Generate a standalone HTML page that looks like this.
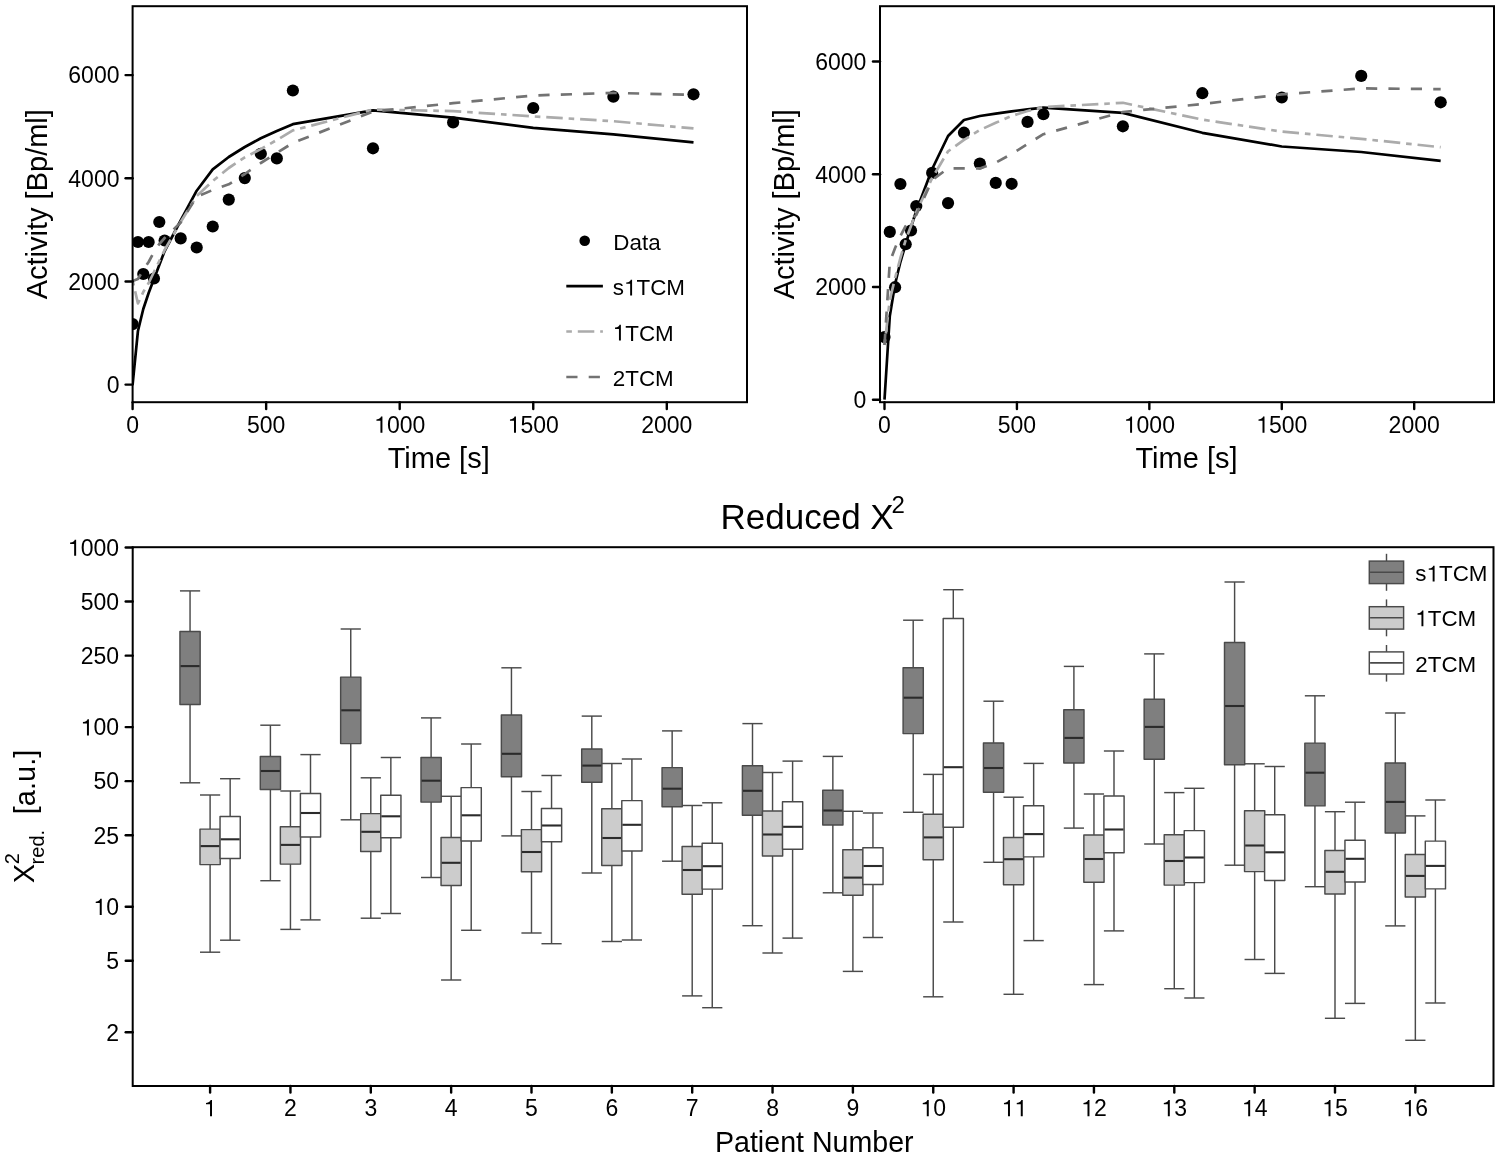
<!DOCTYPE html><html><head><meta charset="utf-8"><style>html,body{margin:0;padding:0;background:#fff;overflow:hidden}svg{display:block;will-change:transform}text{font-family:"Liberation Sans",sans-serif}</style></head><body><svg width="1500" height="1158" viewBox="0 0 1500 1158" font-family="Liberation Sans, sans-serif" fill="#000">
<rect x="0" y="0" width="1500" height="1158" fill="#fff"/>
<clipPath id="ctl"><rect x="132.6" y="6.2" width="614.4" height="396.0"/></clipPath>
<g clip-path="url(#ctl)">
<circle cx="132.60" cy="324.10" r="6.1" fill="#000"/>
<circle cx="137.94" cy="242.00" r="6.1" fill="#000"/>
<circle cx="143.28" cy="274.00" r="6.1" fill="#000"/>
<circle cx="148.63" cy="242.00" r="6.1" fill="#000"/>
<circle cx="153.97" cy="278.50" r="6.1" fill="#000"/>
<circle cx="159.31" cy="222.00" r="6.1" fill="#000"/>
<circle cx="164.65" cy="240.50" r="6.1" fill="#000"/>
<circle cx="180.68" cy="238.40" r="6.1" fill="#000"/>
<circle cx="196.70" cy="247.50" r="6.1" fill="#000"/>
<circle cx="212.73" cy="226.50" r="6.1" fill="#000"/>
<circle cx="228.76" cy="199.60" r="6.1" fill="#000"/>
<circle cx="244.78" cy="178.10" r="6.1" fill="#000"/>
<circle cx="260.81" cy="153.80" r="6.1" fill="#000"/>
<circle cx="276.83" cy="158.40" r="6.1" fill="#000"/>
<circle cx="292.86" cy="90.50" r="6.1" fill="#000"/>
<circle cx="372.99" cy="148.30" r="6.1" fill="#000"/>
<circle cx="453.12" cy="122.40" r="6.1" fill="#000"/>
<circle cx="533.25" cy="108.00" r="6.1" fill="#000"/>
<circle cx="613.38" cy="96.70" r="6.1" fill="#000"/>
<circle cx="693.51" cy="94.30" r="6.1" fill="#000"/>
<polyline points="132.60,384.60 137.94,331.00 143.28,309.00 148.63,293.00 153.97,279.00 159.31,265.00 164.65,251.00 180.68,220.50 196.70,190.70 212.73,169.40 228.76,157.00 244.78,147.00 260.81,138.30 276.83,131.00 292.86,124.20 372.99,110.30 453.12,117.60 533.25,127.90 613.38,134.40 693.51,142.30" fill="none" stroke="#000" stroke-width="2.7" stroke-linejoin="round" />
<polyline points="132.60,280.00 137.94,303.50 143.28,292.00 148.63,283.00 153.97,272.00 159.31,261.00 164.65,250.00 180.68,222.00 196.70,196.00 212.73,181.00 228.76,168.00 244.78,157.40 260.81,149.10 276.83,140.00 292.86,130.40 372.99,109.50 453.12,111.10 533.25,116.40 613.38,121.20 693.51,128.40" fill="none" stroke="#ABABAB" stroke-width="2.7" stroke-dasharray="5.6 5.9 16.5 5.9" stroke-linejoin="round" />
<polyline points="132.60,281.00 137.94,279.00 143.28,270.00 148.63,262.00 153.97,252.00 159.31,244.00 164.65,238.00 180.68,222.50 196.70,196.70 212.73,190.00 228.76,184.30 244.78,174.00 260.81,163.00 276.83,153.00 292.86,142.90 372.99,111.60 453.12,103.20 533.25,95.50 613.38,92.90 693.51,94.80" fill="none" stroke="#737373" stroke-width="2.7" stroke-dasharray="11.2 11.2" stroke-linejoin="round" />
</g>
<rect x="132.6" y="6.2" width="614.4" height="396.0" fill="none" stroke="#000" stroke-width="2"/>
<line x1="125.60" y1="384.60" x2="132.60" y2="384.60" stroke="#000" stroke-width="2.4" stroke-linecap="round"/>
<text x="119.50" y="392.90" font-size="23" text-anchor="end" >0</text>
<line x1="125.60" y1="281.43" x2="132.60" y2="281.43" stroke="#000" stroke-width="2.4" stroke-linecap="round"/>
<text x="119.50" y="289.73" font-size="23" text-anchor="end" >2000</text>
<line x1="125.60" y1="178.27" x2="132.60" y2="178.27" stroke="#000" stroke-width="2.4" stroke-linecap="round"/>
<text x="119.50" y="186.57" font-size="23" text-anchor="end" >4000</text>
<line x1="125.60" y1="75.10" x2="132.60" y2="75.10" stroke="#000" stroke-width="2.4" stroke-linecap="round"/>
<text x="119.50" y="83.40" font-size="23" text-anchor="end" >6000</text>
<line x1="132.60" y1="402.20" x2="132.60" y2="409.00" stroke="#000" stroke-width="2.4" stroke-linecap="round"/>
<text x="132.60" y="432.70" font-size="23" text-anchor="middle" >0</text>
<line x1="266.15" y1="402.20" x2="266.15" y2="409.00" stroke="#000" stroke-width="2.4" stroke-linecap="round"/>
<text x="266.15" y="432.70" font-size="23" text-anchor="middle" >500</text>
<line x1="399.70" y1="402.20" x2="399.70" y2="409.00" stroke="#000" stroke-width="2.4" stroke-linecap="round"/>
<path d="M275 0L361 0L361 703L300 703C285 650 240 585 100 578L100 517L275 517Z" transform="translate(374.12,432.70) scale(0.0230,-0.0230)"/>
<text x="386.91" y="432.70" font-size="23" >000</text>
<line x1="533.25" y1="402.20" x2="533.25" y2="409.00" stroke="#000" stroke-width="2.4" stroke-linecap="round"/>
<path d="M275 0L361 0L361 703L300 703C285 650 240 585 100 578L100 517L275 517Z" transform="translate(507.67,432.70) scale(0.0230,-0.0230)"/>
<text x="520.46" y="432.70" font-size="23" >500</text>
<line x1="666.80" y1="402.20" x2="666.80" y2="409.00" stroke="#000" stroke-width="2.4" stroke-linecap="round"/>
<text x="666.80" y="432.70" font-size="23" text-anchor="middle" >2000</text>
<text x="438.70" y="468.10" font-size="29" text-anchor="middle" >Time [s]</text>
<text transform="translate(47.1,204.2) rotate(-90)" font-size="29" text-anchor="middle">Activity [Bp/ml]</text>
<clipPath id="ctr"><rect x="880.0" y="6.2" width="614.0" height="396.0"/></clipPath>
<g clip-path="url(#ctr)">
<circle cx="884.50" cy="337.10" r="6.1" fill="#000"/>
<circle cx="889.80" cy="231.90" r="6.1" fill="#000"/>
<circle cx="895.09" cy="287.20" r="6.1" fill="#000"/>
<circle cx="900.39" cy="184.00" r="6.1" fill="#000"/>
<circle cx="905.69" cy="244.20" r="6.1" fill="#000"/>
<circle cx="910.99" cy="230.50" r="6.1" fill="#000"/>
<circle cx="916.28" cy="206.00" r="6.1" fill="#000"/>
<circle cx="932.17" cy="172.90" r="6.1" fill="#000"/>
<circle cx="948.06" cy="203.10" r="6.1" fill="#000"/>
<circle cx="963.96" cy="132.70" r="6.1" fill="#000"/>
<circle cx="979.85" cy="163.50" r="6.1" fill="#000"/>
<circle cx="995.74" cy="182.90" r="6.1" fill="#000"/>
<circle cx="1011.63" cy="183.80" r="6.1" fill="#000"/>
<circle cx="1027.52" cy="121.90" r="6.1" fill="#000"/>
<circle cx="1043.41" cy="114.20" r="6.1" fill="#000"/>
<circle cx="1122.87" cy="126.30" r="6.1" fill="#000"/>
<circle cx="1202.32" cy="93.20" r="6.1" fill="#000"/>
<circle cx="1281.78" cy="97.50" r="6.1" fill="#000"/>
<circle cx="1361.23" cy="75.90" r="6.1" fill="#000"/>
<circle cx="1440.68" cy="102.30" r="6.1" fill="#000"/>
<polyline points="884.50,399.70 889.80,316.00 895.09,284.00 900.39,262.00 905.69,244.00 910.99,227.00 916.28,211.00 932.17,169.00 948.06,136.00 963.96,120.00 979.85,116.00 995.74,113.60 1011.63,111.30 1027.52,109.30 1043.41,107.70 1122.87,112.90 1202.32,132.80 1281.78,146.50 1361.23,152.00 1440.68,160.90" fill="none" stroke="#000" stroke-width="2.7" stroke-linejoin="round" />
<polyline points="884.50,345.00 889.80,300.00 895.09,278.00 900.39,258.00 905.69,240.00 910.99,226.00 916.28,212.00 932.17,178.00 948.06,151.30 963.96,139.90 979.85,130.00 995.74,122.80 1011.63,116.00 1027.52,111.00 1043.41,107.10 1122.87,102.80 1202.32,119.60 1281.78,131.60 1361.23,138.80 1440.68,147.20" fill="none" stroke="#ABABAB" stroke-width="2.7" stroke-dasharray="5.6 5.9 16.5 5.9" stroke-linejoin="round" />
<polyline points="884.50,345.00 889.80,262.00 895.09,248.00 900.39,236.00 905.69,226.00 910.99,219.00 916.28,215.00 932.17,180.00 948.06,168.40 963.96,168.40 979.85,168.40 995.74,162.70 1011.63,154.00 1027.52,144.00 1043.41,134.20 1122.87,112.00 1202.32,104.00 1281.78,94.40 1361.23,88.40 1440.68,89.10" fill="none" stroke="#737373" stroke-width="2.7" stroke-dasharray="11.2 11.2" stroke-linejoin="round" />
</g>
<rect x="880.0" y="6.2" width="614.0" height="396.0" fill="none" stroke="#000" stroke-width="2"/>
<line x1="873.00" y1="399.70" x2="880.00" y2="399.70" stroke="#000" stroke-width="2.4" stroke-linecap="round"/>
<text x="866.40" y="408.00" font-size="23" text-anchor="end" >0</text>
<line x1="873.00" y1="286.97" x2="880.00" y2="286.97" stroke="#000" stroke-width="2.4" stroke-linecap="round"/>
<text x="866.40" y="295.27" font-size="23" text-anchor="end" >2000</text>
<line x1="873.00" y1="174.23" x2="880.00" y2="174.23" stroke="#000" stroke-width="2.4" stroke-linecap="round"/>
<text x="866.40" y="182.53" font-size="23" text-anchor="end" >4000</text>
<line x1="873.00" y1="61.50" x2="880.00" y2="61.50" stroke="#000" stroke-width="2.4" stroke-linecap="round"/>
<text x="866.40" y="69.80" font-size="23" text-anchor="end" >6000</text>
<line x1="884.50" y1="402.20" x2="884.50" y2="409.00" stroke="#000" stroke-width="2.4" stroke-linecap="round"/>
<text x="884.50" y="432.70" font-size="23" text-anchor="middle" >0</text>
<line x1="1016.92" y1="402.20" x2="1016.92" y2="409.00" stroke="#000" stroke-width="2.4" stroke-linecap="round"/>
<text x="1016.92" y="432.70" font-size="23" text-anchor="middle" >500</text>
<line x1="1149.35" y1="402.20" x2="1149.35" y2="409.00" stroke="#000" stroke-width="2.4" stroke-linecap="round"/>
<path d="M275 0L361 0L361 703L300 703C285 650 240 585 100 578L100 517L275 517Z" transform="translate(1123.77,432.70) scale(0.0230,-0.0230)"/>
<text x="1136.56" y="432.70" font-size="23" >000</text>
<line x1="1281.78" y1="402.20" x2="1281.78" y2="409.00" stroke="#000" stroke-width="2.4" stroke-linecap="round"/>
<path d="M275 0L361 0L361 703L300 703C285 650 240 585 100 578L100 517L275 517Z" transform="translate(1256.19,432.70) scale(0.0230,-0.0230)"/>
<text x="1268.98" y="432.70" font-size="23" >500</text>
<line x1="1414.20" y1="402.20" x2="1414.20" y2="409.00" stroke="#000" stroke-width="2.4" stroke-linecap="round"/>
<text x="1414.20" y="432.70" font-size="23" text-anchor="middle" >2000</text>
<text x="1186.50" y="468.10" font-size="29" text-anchor="middle" >Time [s]</text>
<text transform="translate(794.3,204.2) rotate(-90)" font-size="29" text-anchor="middle">Activity [Bp/ml]</text>
<circle cx="584.7" cy="240.8" r="5.3" fill="#000"/>
<text x="613.30" y="249.50" font-size="22.4" text-anchor="start" >Data</text>
<line x1="566.30" y1="286.10" x2="602.90" y2="286.10" stroke="#000" stroke-width="2.7" />
<text x="612.80" y="295.40" font-size="22.4" >s</text>
<path d="M275 0L361 0L361 703L300 703C285 650 240 585 100 578L100 517L275 517Z" transform="translate(624.00,295.40) scale(0.0224,-0.0224)"/>
<text x="636.46" y="295.40" font-size="22.4" >TCM</text>
<line x1="566.30" y1="331.50" x2="602.90" y2="331.50" stroke="#ABABAB" stroke-width="2.7" stroke-dasharray="5.6 5.9 16.5 5.9"/>
<path d="M275 0L361 0L361 703L300 703C285 650 240 585 100 578L100 517L275 517Z" transform="translate(612.80,340.50) scale(0.0224,-0.0224)"/>
<text x="625.26" y="340.50" font-size="22.4" >TCM</text>
<line x1="566.30" y1="377.00" x2="602.90" y2="377.00" stroke="#737373" stroke-width="2.7" stroke-dasharray="11.2 11.2"/>
<text x="612.80" y="385.60" font-size="22.4" text-anchor="start" >2TCM</text>
<line x1="190.05" y1="590.90" x2="190.05" y2="631.50" stroke="#4a4a4a" stroke-width="1.45" />
<line x1="190.05" y1="704.50" x2="190.05" y2="782.80" stroke="#4a4a4a" stroke-width="1.45" />
<line x1="179.95" y1="590.90" x2="200.15" y2="590.90" stroke="#4a4a4a" stroke-width="1.45" />
<line x1="179.95" y1="782.80" x2="200.15" y2="782.80" stroke="#4a4a4a" stroke-width="1.45" />
<rect x="179.95" y="631.50" width="20.20" height="73.00" fill="#7F7F7F" stroke="#4a4a4a" stroke-width="1.45" stroke-linejoin="round"/>
<line x1="180.55" y1="666.10" x2="199.55" y2="666.10" stroke="#2b2b2b" stroke-width="2.1" />
<line x1="210.10" y1="795.00" x2="210.10" y2="829.10" stroke="#4a4a4a" stroke-width="1.45" />
<line x1="210.10" y1="864.60" x2="210.10" y2="952.20" stroke="#4a4a4a" stroke-width="1.45" />
<line x1="200.00" y1="795.00" x2="220.20" y2="795.00" stroke="#4a4a4a" stroke-width="1.45" />
<line x1="200.00" y1="952.20" x2="220.20" y2="952.20" stroke="#4a4a4a" stroke-width="1.45" />
<rect x="200.00" y="829.10" width="20.20" height="35.50" fill="#CCCCCC" stroke="#4a4a4a" stroke-width="1.45" stroke-linejoin="round"/>
<line x1="200.60" y1="846.10" x2="219.60" y2="846.10" stroke="#2b2b2b" stroke-width="2.1" />
<line x1="230.15" y1="778.70" x2="230.15" y2="816.50" stroke="#4a4a4a" stroke-width="1.45" />
<line x1="230.15" y1="858.50" x2="230.15" y2="940.20" stroke="#4a4a4a" stroke-width="1.45" />
<line x1="220.05" y1="778.70" x2="240.25" y2="778.70" stroke="#4a4a4a" stroke-width="1.45" />
<line x1="220.05" y1="940.20" x2="240.25" y2="940.20" stroke="#4a4a4a" stroke-width="1.45" />
<rect x="220.05" y="816.50" width="20.20" height="42.00" fill="#FFFFFF" stroke="#4a4a4a" stroke-width="1.45" stroke-linejoin="round"/>
<line x1="220.65" y1="839.30" x2="239.65" y2="839.30" stroke="#2b2b2b" stroke-width="2.1" />
<line x1="270.40" y1="725.20" x2="270.40" y2="756.50" stroke="#4a4a4a" stroke-width="1.45" />
<line x1="270.40" y1="789.40" x2="270.40" y2="880.70" stroke="#4a4a4a" stroke-width="1.45" />
<line x1="260.30" y1="725.20" x2="280.50" y2="725.20" stroke="#4a4a4a" stroke-width="1.45" />
<line x1="260.30" y1="880.70" x2="280.50" y2="880.70" stroke="#4a4a4a" stroke-width="1.45" />
<rect x="260.30" y="756.50" width="20.20" height="32.90" fill="#7F7F7F" stroke="#4a4a4a" stroke-width="1.45" stroke-linejoin="round"/>
<line x1="260.90" y1="771.00" x2="279.90" y2="771.00" stroke="#2b2b2b" stroke-width="2.1" />
<line x1="290.45" y1="791.00" x2="290.45" y2="826.80" stroke="#4a4a4a" stroke-width="1.45" />
<line x1="290.45" y1="864.10" x2="290.45" y2="929.40" stroke="#4a4a4a" stroke-width="1.45" />
<line x1="280.35" y1="791.00" x2="300.55" y2="791.00" stroke="#4a4a4a" stroke-width="1.45" />
<line x1="280.35" y1="929.40" x2="300.55" y2="929.40" stroke="#4a4a4a" stroke-width="1.45" />
<rect x="280.35" y="826.80" width="20.20" height="37.30" fill="#CCCCCC" stroke="#4a4a4a" stroke-width="1.45" stroke-linejoin="round"/>
<line x1="280.95" y1="844.90" x2="299.95" y2="844.90" stroke="#2b2b2b" stroke-width="2.1" />
<line x1="310.50" y1="754.60" x2="310.50" y2="793.50" stroke="#4a4a4a" stroke-width="1.45" />
<line x1="310.50" y1="837.00" x2="310.50" y2="919.90" stroke="#4a4a4a" stroke-width="1.45" />
<line x1="300.40" y1="754.60" x2="320.60" y2="754.60" stroke="#4a4a4a" stroke-width="1.45" />
<line x1="300.40" y1="919.90" x2="320.60" y2="919.90" stroke="#4a4a4a" stroke-width="1.45" />
<rect x="300.40" y="793.50" width="20.20" height="43.50" fill="#FFFFFF" stroke="#4a4a4a" stroke-width="1.45" stroke-linejoin="round"/>
<line x1="301.00" y1="813.00" x2="320.00" y2="813.00" stroke="#2b2b2b" stroke-width="2.1" />
<line x1="350.75" y1="629.00" x2="350.75" y2="677.10" stroke="#4a4a4a" stroke-width="1.45" />
<line x1="350.75" y1="743.60" x2="350.75" y2="819.80" stroke="#4a4a4a" stroke-width="1.45" />
<line x1="340.65" y1="629.00" x2="360.85" y2="629.00" stroke="#4a4a4a" stroke-width="1.45" />
<line x1="340.65" y1="819.80" x2="360.85" y2="819.80" stroke="#4a4a4a" stroke-width="1.45" />
<rect x="340.65" y="677.10" width="20.20" height="66.50" fill="#7F7F7F" stroke="#4a4a4a" stroke-width="1.45" stroke-linejoin="round"/>
<line x1="341.25" y1="710.30" x2="360.25" y2="710.30" stroke="#2b2b2b" stroke-width="2.1" />
<line x1="370.80" y1="777.80" x2="370.80" y2="813.60" stroke="#4a4a4a" stroke-width="1.45" />
<line x1="370.80" y1="851.50" x2="370.80" y2="918.20" stroke="#4a4a4a" stroke-width="1.45" />
<line x1="360.70" y1="777.80" x2="380.90" y2="777.80" stroke="#4a4a4a" stroke-width="1.45" />
<line x1="360.70" y1="918.20" x2="380.90" y2="918.20" stroke="#4a4a4a" stroke-width="1.45" />
<rect x="360.70" y="813.60" width="20.20" height="37.90" fill="#CCCCCC" stroke="#4a4a4a" stroke-width="1.45" stroke-linejoin="round"/>
<line x1="361.30" y1="831.80" x2="380.30" y2="831.80" stroke="#2b2b2b" stroke-width="2.1" />
<line x1="390.85" y1="757.50" x2="390.85" y2="795.30" stroke="#4a4a4a" stroke-width="1.45" />
<line x1="390.85" y1="837.80" x2="390.85" y2="913.50" stroke="#4a4a4a" stroke-width="1.45" />
<line x1="380.75" y1="757.50" x2="400.95" y2="757.50" stroke="#4a4a4a" stroke-width="1.45" />
<line x1="380.75" y1="913.50" x2="400.95" y2="913.50" stroke="#4a4a4a" stroke-width="1.45" />
<rect x="380.75" y="795.30" width="20.20" height="42.50" fill="#FFFFFF" stroke="#4a4a4a" stroke-width="1.45" stroke-linejoin="round"/>
<line x1="381.35" y1="816.30" x2="400.35" y2="816.30" stroke="#2b2b2b" stroke-width="2.1" />
<line x1="431.10" y1="717.90" x2="431.10" y2="757.50" stroke="#4a4a4a" stroke-width="1.45" />
<line x1="431.10" y1="802.10" x2="431.10" y2="877.50" stroke="#4a4a4a" stroke-width="1.45" />
<line x1="421.00" y1="717.90" x2="441.20" y2="717.90" stroke="#4a4a4a" stroke-width="1.45" />
<line x1="421.00" y1="877.50" x2="441.20" y2="877.50" stroke="#4a4a4a" stroke-width="1.45" />
<rect x="421.00" y="757.50" width="20.20" height="44.60" fill="#7F7F7F" stroke="#4a4a4a" stroke-width="1.45" stroke-linejoin="round"/>
<line x1="421.60" y1="780.70" x2="440.60" y2="780.70" stroke="#2b2b2b" stroke-width="2.1" />
<line x1="451.15" y1="796.30" x2="451.15" y2="837.50" stroke="#4a4a4a" stroke-width="1.45" />
<line x1="451.15" y1="885.50" x2="451.15" y2="980.00" stroke="#4a4a4a" stroke-width="1.45" />
<line x1="441.05" y1="796.30" x2="461.25" y2="796.30" stroke="#4a4a4a" stroke-width="1.45" />
<line x1="441.05" y1="980.00" x2="461.25" y2="980.00" stroke="#4a4a4a" stroke-width="1.45" />
<rect x="441.05" y="837.50" width="20.20" height="48.00" fill="#CCCCCC" stroke="#4a4a4a" stroke-width="1.45" stroke-linejoin="round"/>
<line x1="441.65" y1="862.80" x2="460.65" y2="862.80" stroke="#2b2b2b" stroke-width="2.1" />
<line x1="471.20" y1="744.00" x2="471.20" y2="787.60" stroke="#4a4a4a" stroke-width="1.45" />
<line x1="471.20" y1="841.00" x2="471.20" y2="930.30" stroke="#4a4a4a" stroke-width="1.45" />
<line x1="461.10" y1="744.00" x2="481.30" y2="744.00" stroke="#4a4a4a" stroke-width="1.45" />
<line x1="461.10" y1="930.30" x2="481.30" y2="930.30" stroke="#4a4a4a" stroke-width="1.45" />
<rect x="461.10" y="787.60" width="20.20" height="53.40" fill="#FFFFFF" stroke="#4a4a4a" stroke-width="1.45" stroke-linejoin="round"/>
<line x1="461.70" y1="815.30" x2="480.70" y2="815.30" stroke="#2b2b2b" stroke-width="2.1" />
<line x1="511.45" y1="667.80" x2="511.45" y2="715.00" stroke="#4a4a4a" stroke-width="1.45" />
<line x1="511.45" y1="776.80" x2="511.45" y2="835.90" stroke="#4a4a4a" stroke-width="1.45" />
<line x1="501.35" y1="667.80" x2="521.55" y2="667.80" stroke="#4a4a4a" stroke-width="1.45" />
<line x1="501.35" y1="835.90" x2="521.55" y2="835.90" stroke="#4a4a4a" stroke-width="1.45" />
<rect x="501.35" y="715.00" width="20.20" height="61.80" fill="#7F7F7F" stroke="#4a4a4a" stroke-width="1.45" stroke-linejoin="round"/>
<line x1="501.95" y1="753.80" x2="520.95" y2="753.80" stroke="#2b2b2b" stroke-width="2.1" />
<line x1="531.50" y1="791.50" x2="531.50" y2="829.60" stroke="#4a4a4a" stroke-width="1.45" />
<line x1="531.50" y1="871.70" x2="531.50" y2="933.00" stroke="#4a4a4a" stroke-width="1.45" />
<line x1="521.40" y1="791.50" x2="541.60" y2="791.50" stroke="#4a4a4a" stroke-width="1.45" />
<line x1="521.40" y1="933.00" x2="541.60" y2="933.00" stroke="#4a4a4a" stroke-width="1.45" />
<rect x="521.40" y="829.60" width="20.20" height="42.10" fill="#CCCCCC" stroke="#4a4a4a" stroke-width="1.45" stroke-linejoin="round"/>
<line x1="522.00" y1="852.00" x2="541.00" y2="852.00" stroke="#2b2b2b" stroke-width="2.1" />
<line x1="551.55" y1="775.50" x2="551.55" y2="808.50" stroke="#4a4a4a" stroke-width="1.45" />
<line x1="551.55" y1="841.70" x2="551.55" y2="943.70" stroke="#4a4a4a" stroke-width="1.45" />
<line x1="541.45" y1="775.50" x2="561.65" y2="775.50" stroke="#4a4a4a" stroke-width="1.45" />
<line x1="541.45" y1="943.70" x2="561.65" y2="943.70" stroke="#4a4a4a" stroke-width="1.45" />
<rect x="541.45" y="808.50" width="20.20" height="33.20" fill="#FFFFFF" stroke="#4a4a4a" stroke-width="1.45" stroke-linejoin="round"/>
<line x1="542.05" y1="825.50" x2="561.05" y2="825.50" stroke="#2b2b2b" stroke-width="2.1" />
<line x1="591.80" y1="716.10" x2="591.80" y2="749.00" stroke="#4a4a4a" stroke-width="1.45" />
<line x1="591.80" y1="782.20" x2="591.80" y2="873.00" stroke="#4a4a4a" stroke-width="1.45" />
<line x1="581.70" y1="716.10" x2="601.90" y2="716.10" stroke="#4a4a4a" stroke-width="1.45" />
<line x1="581.70" y1="873.00" x2="601.90" y2="873.00" stroke="#4a4a4a" stroke-width="1.45" />
<rect x="581.70" y="749.00" width="20.20" height="33.20" fill="#7F7F7F" stroke="#4a4a4a" stroke-width="1.45" stroke-linejoin="round"/>
<line x1="582.30" y1="765.60" x2="601.30" y2="765.60" stroke="#2b2b2b" stroke-width="2.1" />
<line x1="611.85" y1="763.50" x2="611.85" y2="808.70" stroke="#4a4a4a" stroke-width="1.45" />
<line x1="611.85" y1="865.50" x2="611.85" y2="941.50" stroke="#4a4a4a" stroke-width="1.45" />
<line x1="601.75" y1="763.50" x2="621.95" y2="763.50" stroke="#4a4a4a" stroke-width="1.45" />
<line x1="601.75" y1="941.50" x2="621.95" y2="941.50" stroke="#4a4a4a" stroke-width="1.45" />
<rect x="601.75" y="808.70" width="20.20" height="56.80" fill="#CCCCCC" stroke="#4a4a4a" stroke-width="1.45" stroke-linejoin="round"/>
<line x1="602.35" y1="838.00" x2="621.35" y2="838.00" stroke="#2b2b2b" stroke-width="2.1" />
<line x1="631.90" y1="759.00" x2="631.90" y2="800.60" stroke="#4a4a4a" stroke-width="1.45" />
<line x1="631.90" y1="851.00" x2="631.90" y2="940.00" stroke="#4a4a4a" stroke-width="1.45" />
<line x1="621.80" y1="759.00" x2="642.00" y2="759.00" stroke="#4a4a4a" stroke-width="1.45" />
<line x1="621.80" y1="940.00" x2="642.00" y2="940.00" stroke="#4a4a4a" stroke-width="1.45" />
<rect x="621.80" y="800.60" width="20.20" height="50.40" fill="#FFFFFF" stroke="#4a4a4a" stroke-width="1.45" stroke-linejoin="round"/>
<line x1="622.40" y1="824.80" x2="641.40" y2="824.80" stroke="#2b2b2b" stroke-width="2.1" />
<line x1="672.15" y1="730.90" x2="672.15" y2="767.60" stroke="#4a4a4a" stroke-width="1.45" />
<line x1="672.15" y1="806.70" x2="672.15" y2="861.20" stroke="#4a4a4a" stroke-width="1.45" />
<line x1="662.05" y1="730.90" x2="682.25" y2="730.90" stroke="#4a4a4a" stroke-width="1.45" />
<line x1="662.05" y1="861.20" x2="682.25" y2="861.20" stroke="#4a4a4a" stroke-width="1.45" />
<rect x="662.05" y="767.60" width="20.20" height="39.10" fill="#7F7F7F" stroke="#4a4a4a" stroke-width="1.45" stroke-linejoin="round"/>
<line x1="662.65" y1="788.70" x2="681.65" y2="788.70" stroke="#2b2b2b" stroke-width="2.1" />
<line x1="692.20" y1="805.50" x2="692.20" y2="846.50" stroke="#4a4a4a" stroke-width="1.45" />
<line x1="692.20" y1="894.20" x2="692.20" y2="995.90" stroke="#4a4a4a" stroke-width="1.45" />
<line x1="682.10" y1="805.50" x2="702.30" y2="805.50" stroke="#4a4a4a" stroke-width="1.45" />
<line x1="682.10" y1="995.90" x2="702.30" y2="995.90" stroke="#4a4a4a" stroke-width="1.45" />
<rect x="682.10" y="846.50" width="20.20" height="47.70" fill="#CCCCCC" stroke="#4a4a4a" stroke-width="1.45" stroke-linejoin="round"/>
<line x1="682.70" y1="870.00" x2="701.70" y2="870.00" stroke="#2b2b2b" stroke-width="2.1" />
<line x1="712.25" y1="802.80" x2="712.25" y2="843.20" stroke="#4a4a4a" stroke-width="1.45" />
<line x1="712.25" y1="889.10" x2="712.25" y2="1007.70" stroke="#4a4a4a" stroke-width="1.45" />
<line x1="702.15" y1="802.80" x2="722.35" y2="802.80" stroke="#4a4a4a" stroke-width="1.45" />
<line x1="702.15" y1="1007.70" x2="722.35" y2="1007.70" stroke="#4a4a4a" stroke-width="1.45" />
<rect x="702.15" y="843.20" width="20.20" height="45.90" fill="#FFFFFF" stroke="#4a4a4a" stroke-width="1.45" stroke-linejoin="round"/>
<line x1="702.75" y1="866.20" x2="721.75" y2="866.20" stroke="#2b2b2b" stroke-width="2.1" />
<line x1="752.50" y1="723.60" x2="752.50" y2="765.70" stroke="#4a4a4a" stroke-width="1.45" />
<line x1="752.50" y1="815.20" x2="752.50" y2="925.70" stroke="#4a4a4a" stroke-width="1.45" />
<line x1="742.40" y1="723.60" x2="762.60" y2="723.60" stroke="#4a4a4a" stroke-width="1.45" />
<line x1="742.40" y1="925.70" x2="762.60" y2="925.70" stroke="#4a4a4a" stroke-width="1.45" />
<rect x="742.40" y="765.70" width="20.20" height="49.50" fill="#7F7F7F" stroke="#4a4a4a" stroke-width="1.45" stroke-linejoin="round"/>
<line x1="743.00" y1="790.80" x2="762.00" y2="790.80" stroke="#2b2b2b" stroke-width="2.1" />
<line x1="772.55" y1="772.50" x2="772.55" y2="810.90" stroke="#4a4a4a" stroke-width="1.45" />
<line x1="772.55" y1="856.00" x2="772.55" y2="953.00" stroke="#4a4a4a" stroke-width="1.45" />
<line x1="762.45" y1="772.50" x2="782.65" y2="772.50" stroke="#4a4a4a" stroke-width="1.45" />
<line x1="762.45" y1="953.00" x2="782.65" y2="953.00" stroke="#4a4a4a" stroke-width="1.45" />
<rect x="762.45" y="810.90" width="20.20" height="45.10" fill="#CCCCCC" stroke="#4a4a4a" stroke-width="1.45" stroke-linejoin="round"/>
<line x1="763.05" y1="834.50" x2="782.05" y2="834.50" stroke="#2b2b2b" stroke-width="2.1" />
<line x1="792.60" y1="761.10" x2="792.60" y2="801.80" stroke="#4a4a4a" stroke-width="1.45" />
<line x1="792.60" y1="849.30" x2="792.60" y2="938.10" stroke="#4a4a4a" stroke-width="1.45" />
<line x1="782.50" y1="761.10" x2="802.70" y2="761.10" stroke="#4a4a4a" stroke-width="1.45" />
<line x1="782.50" y1="938.10" x2="802.70" y2="938.10" stroke="#4a4a4a" stroke-width="1.45" />
<rect x="782.50" y="801.80" width="20.20" height="47.50" fill="#FFFFFF" stroke="#4a4a4a" stroke-width="1.45" stroke-linejoin="round"/>
<line x1="783.10" y1="826.80" x2="802.10" y2="826.80" stroke="#2b2b2b" stroke-width="2.1" />
<line x1="832.85" y1="756.40" x2="832.85" y2="790.20" stroke="#4a4a4a" stroke-width="1.45" />
<line x1="832.85" y1="825.00" x2="832.85" y2="892.80" stroke="#4a4a4a" stroke-width="1.45" />
<line x1="822.75" y1="756.40" x2="842.95" y2="756.40" stroke="#4a4a4a" stroke-width="1.45" />
<line x1="822.75" y1="892.80" x2="842.95" y2="892.80" stroke="#4a4a4a" stroke-width="1.45" />
<rect x="822.75" y="790.20" width="20.20" height="34.80" fill="#7F7F7F" stroke="#4a4a4a" stroke-width="1.45" stroke-linejoin="round"/>
<line x1="823.35" y1="810.50" x2="842.35" y2="810.50" stroke="#2b2b2b" stroke-width="2.1" />
<line x1="852.90" y1="811.30" x2="852.90" y2="849.80" stroke="#4a4a4a" stroke-width="1.45" />
<line x1="852.90" y1="895.30" x2="852.90" y2="971.40" stroke="#4a4a4a" stroke-width="1.45" />
<line x1="842.80" y1="811.30" x2="863.00" y2="811.30" stroke="#4a4a4a" stroke-width="1.45" />
<line x1="842.80" y1="971.40" x2="863.00" y2="971.40" stroke="#4a4a4a" stroke-width="1.45" />
<rect x="842.80" y="849.80" width="20.20" height="45.50" fill="#CCCCCC" stroke="#4a4a4a" stroke-width="1.45" stroke-linejoin="round"/>
<line x1="843.40" y1="877.60" x2="862.40" y2="877.60" stroke="#2b2b2b" stroke-width="2.1" />
<line x1="872.95" y1="813.00" x2="872.95" y2="847.80" stroke="#4a4a4a" stroke-width="1.45" />
<line x1="872.95" y1="884.50" x2="872.95" y2="937.50" stroke="#4a4a4a" stroke-width="1.45" />
<line x1="862.85" y1="813.00" x2="883.05" y2="813.00" stroke="#4a4a4a" stroke-width="1.45" />
<line x1="862.85" y1="937.50" x2="883.05" y2="937.50" stroke="#4a4a4a" stroke-width="1.45" />
<rect x="862.85" y="847.80" width="20.20" height="36.70" fill="#FFFFFF" stroke="#4a4a4a" stroke-width="1.45" stroke-linejoin="round"/>
<line x1="863.45" y1="866.00" x2="882.45" y2="866.00" stroke="#2b2b2b" stroke-width="2.1" />
<line x1="913.20" y1="620.20" x2="913.20" y2="667.70" stroke="#4a4a4a" stroke-width="1.45" />
<line x1="913.20" y1="733.60" x2="913.20" y2="812.30" stroke="#4a4a4a" stroke-width="1.45" />
<line x1="903.10" y1="620.20" x2="923.30" y2="620.20" stroke="#4a4a4a" stroke-width="1.45" />
<line x1="903.10" y1="812.30" x2="923.30" y2="812.30" stroke="#4a4a4a" stroke-width="1.45" />
<rect x="903.10" y="667.70" width="20.20" height="65.90" fill="#7F7F7F" stroke="#4a4a4a" stroke-width="1.45" stroke-linejoin="round"/>
<line x1="903.70" y1="697.70" x2="922.70" y2="697.70" stroke="#2b2b2b" stroke-width="2.1" />
<line x1="933.25" y1="774.40" x2="933.25" y2="814.20" stroke="#4a4a4a" stroke-width="1.45" />
<line x1="933.25" y1="859.80" x2="933.25" y2="996.80" stroke="#4a4a4a" stroke-width="1.45" />
<line x1="923.15" y1="774.40" x2="943.35" y2="774.40" stroke="#4a4a4a" stroke-width="1.45" />
<line x1="923.15" y1="996.80" x2="943.35" y2="996.80" stroke="#4a4a4a" stroke-width="1.45" />
<rect x="923.15" y="814.20" width="20.20" height="45.60" fill="#CCCCCC" stroke="#4a4a4a" stroke-width="1.45" stroke-linejoin="round"/>
<line x1="923.75" y1="837.40" x2="942.75" y2="837.40" stroke="#2b2b2b" stroke-width="2.1" />
<line x1="953.30" y1="589.70" x2="953.30" y2="618.50" stroke="#4a4a4a" stroke-width="1.45" />
<line x1="953.30" y1="827.30" x2="953.30" y2="922.00" stroke="#4a4a4a" stroke-width="1.45" />
<line x1="943.20" y1="589.70" x2="963.40" y2="589.70" stroke="#4a4a4a" stroke-width="1.45" />
<line x1="943.20" y1="922.00" x2="963.40" y2="922.00" stroke="#4a4a4a" stroke-width="1.45" />
<rect x="943.20" y="618.50" width="20.20" height="208.80" fill="#FFFFFF" stroke="#4a4a4a" stroke-width="1.45" stroke-linejoin="round"/>
<line x1="943.80" y1="767.20" x2="962.80" y2="767.20" stroke="#2b2b2b" stroke-width="2.1" />
<line x1="993.55" y1="701.20" x2="993.55" y2="742.90" stroke="#4a4a4a" stroke-width="1.45" />
<line x1="993.55" y1="792.30" x2="993.55" y2="862.30" stroke="#4a4a4a" stroke-width="1.45" />
<line x1="983.45" y1="701.20" x2="1003.65" y2="701.20" stroke="#4a4a4a" stroke-width="1.45" />
<line x1="983.45" y1="862.30" x2="1003.65" y2="862.30" stroke="#4a4a4a" stroke-width="1.45" />
<rect x="983.45" y="742.90" width="20.20" height="49.40" fill="#7F7F7F" stroke="#4a4a4a" stroke-width="1.45" stroke-linejoin="round"/>
<line x1="984.05" y1="768.00" x2="1003.05" y2="768.00" stroke="#2b2b2b" stroke-width="2.1" />
<line x1="1013.60" y1="797.20" x2="1013.60" y2="837.40" stroke="#4a4a4a" stroke-width="1.45" />
<line x1="1013.60" y1="884.70" x2="1013.60" y2="994.30" stroke="#4a4a4a" stroke-width="1.45" />
<line x1="1003.50" y1="797.20" x2="1023.70" y2="797.20" stroke="#4a4a4a" stroke-width="1.45" />
<line x1="1003.50" y1="994.30" x2="1023.70" y2="994.30" stroke="#4a4a4a" stroke-width="1.45" />
<rect x="1003.50" y="837.40" width="20.20" height="47.30" fill="#CCCCCC" stroke="#4a4a4a" stroke-width="1.45" stroke-linejoin="round"/>
<line x1="1004.10" y1="859.20" x2="1023.10" y2="859.20" stroke="#2b2b2b" stroke-width="2.1" />
<line x1="1033.65" y1="763.40" x2="1033.65" y2="805.80" stroke="#4a4a4a" stroke-width="1.45" />
<line x1="1033.65" y1="856.90" x2="1033.65" y2="940.60" stroke="#4a4a4a" stroke-width="1.45" />
<line x1="1023.55" y1="763.40" x2="1043.75" y2="763.40" stroke="#4a4a4a" stroke-width="1.45" />
<line x1="1023.55" y1="940.60" x2="1043.75" y2="940.60" stroke="#4a4a4a" stroke-width="1.45" />
<rect x="1023.55" y="805.80" width="20.20" height="51.10" fill="#FFFFFF" stroke="#4a4a4a" stroke-width="1.45" stroke-linejoin="round"/>
<line x1="1024.15" y1="834.10" x2="1043.15" y2="834.10" stroke="#2b2b2b" stroke-width="2.1" />
<line x1="1073.90" y1="666.40" x2="1073.90" y2="709.70" stroke="#4a4a4a" stroke-width="1.45" />
<line x1="1073.90" y1="763.00" x2="1073.90" y2="828.10" stroke="#4a4a4a" stroke-width="1.45" />
<line x1="1063.80" y1="666.40" x2="1084.00" y2="666.40" stroke="#4a4a4a" stroke-width="1.45" />
<line x1="1063.80" y1="828.10" x2="1084.00" y2="828.10" stroke="#4a4a4a" stroke-width="1.45" />
<rect x="1063.80" y="709.70" width="20.20" height="53.30" fill="#7F7F7F" stroke="#4a4a4a" stroke-width="1.45" stroke-linejoin="round"/>
<line x1="1064.40" y1="737.90" x2="1083.40" y2="737.90" stroke="#2b2b2b" stroke-width="2.1" />
<line x1="1093.95" y1="794.00" x2="1093.95" y2="834.90" stroke="#4a4a4a" stroke-width="1.45" />
<line x1="1093.95" y1="882.20" x2="1093.95" y2="984.60" stroke="#4a4a4a" stroke-width="1.45" />
<line x1="1083.85" y1="794.00" x2="1104.05" y2="794.00" stroke="#4a4a4a" stroke-width="1.45" />
<line x1="1083.85" y1="984.60" x2="1104.05" y2="984.60" stroke="#4a4a4a" stroke-width="1.45" />
<rect x="1083.85" y="834.90" width="20.20" height="47.30" fill="#CCCCCC" stroke="#4a4a4a" stroke-width="1.45" stroke-linejoin="round"/>
<line x1="1084.45" y1="859.00" x2="1103.45" y2="859.00" stroke="#2b2b2b" stroke-width="2.1" />
<line x1="1114.00" y1="751.00" x2="1114.00" y2="795.90" stroke="#4a4a4a" stroke-width="1.45" />
<line x1="1114.00" y1="852.70" x2="1114.00" y2="930.90" stroke="#4a4a4a" stroke-width="1.45" />
<line x1="1103.90" y1="751.00" x2="1124.10" y2="751.00" stroke="#4a4a4a" stroke-width="1.45" />
<line x1="1103.90" y1="930.90" x2="1124.10" y2="930.90" stroke="#4a4a4a" stroke-width="1.45" />
<rect x="1103.90" y="795.90" width="20.20" height="56.80" fill="#FFFFFF" stroke="#4a4a4a" stroke-width="1.45" stroke-linejoin="round"/>
<line x1="1104.50" y1="829.50" x2="1123.50" y2="829.50" stroke="#2b2b2b" stroke-width="2.1" />
<line x1="1154.25" y1="653.90" x2="1154.25" y2="699.30" stroke="#4a4a4a" stroke-width="1.45" />
<line x1="1154.25" y1="759.20" x2="1154.25" y2="844.00" stroke="#4a4a4a" stroke-width="1.45" />
<line x1="1144.15" y1="653.90" x2="1164.35" y2="653.90" stroke="#4a4a4a" stroke-width="1.45" />
<line x1="1144.15" y1="844.00" x2="1164.35" y2="844.00" stroke="#4a4a4a" stroke-width="1.45" />
<rect x="1144.15" y="699.30" width="20.20" height="59.90" fill="#7F7F7F" stroke="#4a4a4a" stroke-width="1.45" stroke-linejoin="round"/>
<line x1="1144.75" y1="726.90" x2="1163.75" y2="726.90" stroke="#2b2b2b" stroke-width="2.1" />
<line x1="1174.30" y1="792.60" x2="1174.30" y2="834.70" stroke="#4a4a4a" stroke-width="1.45" />
<line x1="1174.30" y1="885.10" x2="1174.30" y2="988.70" stroke="#4a4a4a" stroke-width="1.45" />
<line x1="1164.20" y1="792.60" x2="1184.40" y2="792.60" stroke="#4a4a4a" stroke-width="1.45" />
<line x1="1164.20" y1="988.70" x2="1184.40" y2="988.70" stroke="#4a4a4a" stroke-width="1.45" />
<rect x="1164.20" y="834.70" width="20.20" height="50.40" fill="#CCCCCC" stroke="#4a4a4a" stroke-width="1.45" stroke-linejoin="round"/>
<line x1="1164.80" y1="861.00" x2="1183.80" y2="861.00" stroke="#2b2b2b" stroke-width="2.1" />
<line x1="1194.35" y1="788.30" x2="1194.35" y2="830.60" stroke="#4a4a4a" stroke-width="1.45" />
<line x1="1194.35" y1="882.60" x2="1194.35" y2="998.00" stroke="#4a4a4a" stroke-width="1.45" />
<line x1="1184.25" y1="788.30" x2="1204.45" y2="788.30" stroke="#4a4a4a" stroke-width="1.45" />
<line x1="1184.25" y1="998.00" x2="1204.45" y2="998.00" stroke="#4a4a4a" stroke-width="1.45" />
<rect x="1184.25" y="830.60" width="20.20" height="52.00" fill="#FFFFFF" stroke="#4a4a4a" stroke-width="1.45" stroke-linejoin="round"/>
<line x1="1184.85" y1="857.50" x2="1203.85" y2="857.50" stroke="#2b2b2b" stroke-width="2.1" />
<line x1="1234.60" y1="582.00" x2="1234.60" y2="642.50" stroke="#4a4a4a" stroke-width="1.45" />
<line x1="1234.60" y1="764.80" x2="1234.60" y2="865.20" stroke="#4a4a4a" stroke-width="1.45" />
<line x1="1224.50" y1="582.00" x2="1244.70" y2="582.00" stroke="#4a4a4a" stroke-width="1.45" />
<line x1="1224.50" y1="865.20" x2="1244.70" y2="865.20" stroke="#4a4a4a" stroke-width="1.45" />
<rect x="1224.50" y="642.50" width="20.20" height="122.30" fill="#7F7F7F" stroke="#4a4a4a" stroke-width="1.45" stroke-linejoin="round"/>
<line x1="1225.10" y1="706.00" x2="1244.10" y2="706.00" stroke="#2b2b2b" stroke-width="2.1" />
<line x1="1254.65" y1="763.80" x2="1254.65" y2="810.70" stroke="#4a4a4a" stroke-width="1.45" />
<line x1="1254.65" y1="871.60" x2="1254.65" y2="959.50" stroke="#4a4a4a" stroke-width="1.45" />
<line x1="1244.55" y1="763.80" x2="1264.75" y2="763.80" stroke="#4a4a4a" stroke-width="1.45" />
<line x1="1244.55" y1="959.50" x2="1264.75" y2="959.50" stroke="#4a4a4a" stroke-width="1.45" />
<rect x="1244.55" y="810.70" width="20.20" height="60.90" fill="#CCCCCC" stroke="#4a4a4a" stroke-width="1.45" stroke-linejoin="round"/>
<line x1="1245.15" y1="845.50" x2="1264.15" y2="845.50" stroke="#2b2b2b" stroke-width="2.1" />
<line x1="1274.70" y1="766.50" x2="1274.70" y2="814.80" stroke="#4a4a4a" stroke-width="1.45" />
<line x1="1274.70" y1="880.50" x2="1274.70" y2="973.40" stroke="#4a4a4a" stroke-width="1.45" />
<line x1="1264.60" y1="766.50" x2="1284.80" y2="766.50" stroke="#4a4a4a" stroke-width="1.45" />
<line x1="1264.60" y1="973.40" x2="1284.80" y2="973.40" stroke="#4a4a4a" stroke-width="1.45" />
<rect x="1264.60" y="814.80" width="20.20" height="65.70" fill="#FFFFFF" stroke="#4a4a4a" stroke-width="1.45" stroke-linejoin="round"/>
<line x1="1265.20" y1="852.30" x2="1284.20" y2="852.30" stroke="#2b2b2b" stroke-width="2.1" />
<line x1="1314.95" y1="695.80" x2="1314.95" y2="743.10" stroke="#4a4a4a" stroke-width="1.45" />
<line x1="1314.95" y1="805.90" x2="1314.95" y2="886.70" stroke="#4a4a4a" stroke-width="1.45" />
<line x1="1304.85" y1="695.80" x2="1325.05" y2="695.80" stroke="#4a4a4a" stroke-width="1.45" />
<line x1="1304.85" y1="886.70" x2="1325.05" y2="886.70" stroke="#4a4a4a" stroke-width="1.45" />
<rect x="1304.85" y="743.10" width="20.20" height="62.80" fill="#7F7F7F" stroke="#4a4a4a" stroke-width="1.45" stroke-linejoin="round"/>
<line x1="1305.45" y1="772.70" x2="1324.45" y2="772.70" stroke="#2b2b2b" stroke-width="2.1" />
<line x1="1335.00" y1="811.70" x2="1335.00" y2="850.50" stroke="#4a4a4a" stroke-width="1.45" />
<line x1="1335.00" y1="894.00" x2="1335.00" y2="1018.30" stroke="#4a4a4a" stroke-width="1.45" />
<line x1="1324.90" y1="811.70" x2="1345.10" y2="811.70" stroke="#4a4a4a" stroke-width="1.45" />
<line x1="1324.90" y1="1018.30" x2="1345.10" y2="1018.30" stroke="#4a4a4a" stroke-width="1.45" />
<rect x="1324.90" y="850.50" width="20.20" height="43.50" fill="#CCCCCC" stroke="#4a4a4a" stroke-width="1.45" stroke-linejoin="round"/>
<line x1="1325.50" y1="871.80" x2="1344.50" y2="871.80" stroke="#2b2b2b" stroke-width="2.1" />
<line x1="1355.05" y1="802.20" x2="1355.05" y2="840.30" stroke="#4a4a4a" stroke-width="1.45" />
<line x1="1355.05" y1="882.00" x2="1355.05" y2="1003.40" stroke="#4a4a4a" stroke-width="1.45" />
<line x1="1344.95" y1="802.20" x2="1365.15" y2="802.20" stroke="#4a4a4a" stroke-width="1.45" />
<line x1="1344.95" y1="1003.40" x2="1365.15" y2="1003.40" stroke="#4a4a4a" stroke-width="1.45" />
<rect x="1344.95" y="840.30" width="20.20" height="41.70" fill="#FFFFFF" stroke="#4a4a4a" stroke-width="1.45" stroke-linejoin="round"/>
<line x1="1345.55" y1="858.80" x2="1364.55" y2="858.80" stroke="#2b2b2b" stroke-width="2.1" />
<line x1="1395.30" y1="713.00" x2="1395.30" y2="763.00" stroke="#4a4a4a" stroke-width="1.45" />
<line x1="1395.30" y1="833.00" x2="1395.30" y2="925.90" stroke="#4a4a4a" stroke-width="1.45" />
<line x1="1385.20" y1="713.00" x2="1405.40" y2="713.00" stroke="#4a4a4a" stroke-width="1.45" />
<line x1="1385.20" y1="925.90" x2="1405.40" y2="925.90" stroke="#4a4a4a" stroke-width="1.45" />
<rect x="1385.20" y="763.00" width="20.20" height="70.00" fill="#7F7F7F" stroke="#4a4a4a" stroke-width="1.45" stroke-linejoin="round"/>
<line x1="1385.80" y1="801.90" x2="1404.80" y2="801.90" stroke="#2b2b2b" stroke-width="2.1" />
<line x1="1415.35" y1="815.90" x2="1415.35" y2="854.40" stroke="#4a4a4a" stroke-width="1.45" />
<line x1="1415.35" y1="897.00" x2="1415.35" y2="1040.30" stroke="#4a4a4a" stroke-width="1.45" />
<line x1="1405.25" y1="815.90" x2="1425.45" y2="815.90" stroke="#4a4a4a" stroke-width="1.45" />
<line x1="1405.25" y1="1040.30" x2="1425.45" y2="1040.30" stroke="#4a4a4a" stroke-width="1.45" />
<rect x="1405.25" y="854.40" width="20.20" height="42.60" fill="#CCCCCC" stroke="#4a4a4a" stroke-width="1.45" stroke-linejoin="round"/>
<line x1="1405.85" y1="875.90" x2="1424.85" y2="875.90" stroke="#2b2b2b" stroke-width="2.1" />
<line x1="1435.40" y1="800.00" x2="1435.40" y2="841.10" stroke="#4a4a4a" stroke-width="1.45" />
<line x1="1435.40" y1="888.90" x2="1435.40" y2="1003.00" stroke="#4a4a4a" stroke-width="1.45" />
<line x1="1425.30" y1="800.00" x2="1445.50" y2="800.00" stroke="#4a4a4a" stroke-width="1.45" />
<line x1="1425.30" y1="1003.00" x2="1445.50" y2="1003.00" stroke="#4a4a4a" stroke-width="1.45" />
<rect x="1425.30" y="841.10" width="20.20" height="47.80" fill="#FFFFFF" stroke="#4a4a4a" stroke-width="1.45" stroke-linejoin="round"/>
<line x1="1425.90" y1="865.90" x2="1444.90" y2="865.90" stroke="#2b2b2b" stroke-width="2.1" />
<rect x="132.7" y="547.2" width="1360.8" height="538.8" fill="none" stroke="#000" stroke-width="2"/>
<line x1="125.70" y1="547.50" x2="132.70" y2="547.50" stroke="#000" stroke-width="2.4" stroke-linecap="round"/>
<path d="M275 0L361 0L361 703L300 703C285 650 240 585 100 578L100 517L275 517Z" transform="translate(67.83,555.80) scale(0.0230,-0.0230)"/>
<text x="80.63" y="555.80" font-size="23" >000</text>
<line x1="125.70" y1="601.56" x2="132.70" y2="601.56" stroke="#000" stroke-width="2.4" stroke-linecap="round"/>
<text x="119.00" y="609.86" font-size="23" text-anchor="end" >500</text>
<line x1="125.70" y1="655.63" x2="132.70" y2="655.63" stroke="#000" stroke-width="2.4" stroke-linecap="round"/>
<text x="119.00" y="663.93" font-size="23" text-anchor="end" >250</text>
<line x1="125.70" y1="727.10" x2="132.70" y2="727.10" stroke="#000" stroke-width="2.4" stroke-linecap="round"/>
<path d="M275 0L361 0L361 703L300 703C285 650 240 585 100 578L100 517L275 517Z" transform="translate(80.63,735.40) scale(0.0230,-0.0230)"/>
<text x="93.42" y="735.40" font-size="23" >00</text>
<line x1="125.70" y1="781.16" x2="132.70" y2="781.16" stroke="#000" stroke-width="2.4" stroke-linecap="round"/>
<text x="119.00" y="789.46" font-size="23" text-anchor="end" >50</text>
<line x1="125.70" y1="835.23" x2="132.70" y2="835.23" stroke="#000" stroke-width="2.4" stroke-linecap="round"/>
<text x="119.00" y="843.53" font-size="23" text-anchor="end" >25</text>
<line x1="125.70" y1="906.70" x2="132.70" y2="906.70" stroke="#000" stroke-width="2.4" stroke-linecap="round"/>
<path d="M275 0L361 0L361 703L300 703C285 650 240 585 100 578L100 517L275 517Z" transform="translate(93.42,915.00) scale(0.0230,-0.0230)"/>
<text x="106.21" y="915.00" font-size="23" >0</text>
<line x1="125.70" y1="960.76" x2="132.70" y2="960.76" stroke="#000" stroke-width="2.4" stroke-linecap="round"/>
<text x="119.00" y="969.06" font-size="23" text-anchor="end" >5</text>
<line x1="125.70" y1="1032.24" x2="132.70" y2="1032.24" stroke="#000" stroke-width="2.4" stroke-linecap="round"/>
<text x="119.00" y="1040.54" font-size="23" text-anchor="end" >2</text>
<line x1="210.10" y1="1086.00" x2="210.10" y2="1092.60" stroke="#000" stroke-width="2.4" stroke-linecap="round"/>
<path d="M275 0L361 0L361 703L300 703C285 650 240 585 100 578L100 517L275 517Z" transform="translate(203.70,1116.20) scale(0.0230,-0.0230)"/>
<line x1="290.45" y1="1086.00" x2="290.45" y2="1092.60" stroke="#000" stroke-width="2.4" stroke-linecap="round"/>
<text x="290.45" y="1116.20" font-size="23" text-anchor="middle" >2</text>
<line x1="370.80" y1="1086.00" x2="370.80" y2="1092.60" stroke="#000" stroke-width="2.4" stroke-linecap="round"/>
<text x="370.80" y="1116.20" font-size="23" text-anchor="middle" >3</text>
<line x1="451.15" y1="1086.00" x2="451.15" y2="1092.60" stroke="#000" stroke-width="2.4" stroke-linecap="round"/>
<text x="451.15" y="1116.20" font-size="23" text-anchor="middle" >4</text>
<line x1="531.50" y1="1086.00" x2="531.50" y2="1092.60" stroke="#000" stroke-width="2.4" stroke-linecap="round"/>
<text x="531.50" y="1116.20" font-size="23" text-anchor="middle" >5</text>
<line x1="611.85" y1="1086.00" x2="611.85" y2="1092.60" stroke="#000" stroke-width="2.4" stroke-linecap="round"/>
<text x="611.85" y="1116.20" font-size="23" text-anchor="middle" >6</text>
<line x1="692.20" y1="1086.00" x2="692.20" y2="1092.60" stroke="#000" stroke-width="2.4" stroke-linecap="round"/>
<text x="692.20" y="1116.20" font-size="23" text-anchor="middle" >7</text>
<line x1="772.55" y1="1086.00" x2="772.55" y2="1092.60" stroke="#000" stroke-width="2.4" stroke-linecap="round"/>
<text x="772.55" y="1116.20" font-size="23" text-anchor="middle" >8</text>
<line x1="852.90" y1="1086.00" x2="852.90" y2="1092.60" stroke="#000" stroke-width="2.4" stroke-linecap="round"/>
<text x="852.90" y="1116.20" font-size="23" text-anchor="middle" >9</text>
<line x1="933.25" y1="1086.00" x2="933.25" y2="1092.60" stroke="#000" stroke-width="2.4" stroke-linecap="round"/>
<path d="M275 0L361 0L361 703L300 703C285 650 240 585 100 578L100 517L275 517Z" transform="translate(920.46,1116.20) scale(0.0230,-0.0230)"/>
<text x="933.25" y="1116.20" font-size="23" >0</text>
<line x1="1013.60" y1="1086.00" x2="1013.60" y2="1092.60" stroke="#000" stroke-width="2.4" stroke-linecap="round"/>
<path d="M275 0L361 0L361 703L300 703C285 650 240 585 100 578L100 517L275 517Z" transform="translate(1001.66,1116.20) scale(0.0230,-0.0230)"/>
<path d="M275 0L361 0L361 703L300 703C285 650 240 585 100 578L100 517L275 517Z" transform="translate(1014.45,1116.20) scale(0.0230,-0.0230)"/>
<line x1="1093.95" y1="1086.00" x2="1093.95" y2="1092.60" stroke="#000" stroke-width="2.4" stroke-linecap="round"/>
<path d="M275 0L361 0L361 703L300 703C285 650 240 585 100 578L100 517L275 517Z" transform="translate(1081.16,1116.20) scale(0.0230,-0.0230)"/>
<text x="1093.95" y="1116.20" font-size="23" >2</text>
<line x1="1174.30" y1="1086.00" x2="1174.30" y2="1092.60" stroke="#000" stroke-width="2.4" stroke-linecap="round"/>
<path d="M275 0L361 0L361 703L300 703C285 650 240 585 100 578L100 517L275 517Z" transform="translate(1161.51,1116.20) scale(0.0230,-0.0230)"/>
<text x="1174.30" y="1116.20" font-size="23" >3</text>
<line x1="1254.65" y1="1086.00" x2="1254.65" y2="1092.60" stroke="#000" stroke-width="2.4" stroke-linecap="round"/>
<path d="M275 0L361 0L361 703L300 703C285 650 240 585 100 578L100 517L275 517Z" transform="translate(1241.86,1116.20) scale(0.0230,-0.0230)"/>
<text x="1254.65" y="1116.20" font-size="23" >4</text>
<line x1="1335.00" y1="1086.00" x2="1335.00" y2="1092.60" stroke="#000" stroke-width="2.4" stroke-linecap="round"/>
<path d="M275 0L361 0L361 703L300 703C285 650 240 585 100 578L100 517L275 517Z" transform="translate(1322.21,1116.20) scale(0.0230,-0.0230)"/>
<text x="1335.00" y="1116.20" font-size="23" >5</text>
<line x1="1415.35" y1="1086.00" x2="1415.35" y2="1092.60" stroke="#000" stroke-width="2.4" stroke-linecap="round"/>
<path d="M275 0L361 0L361 703L300 703C285 650 240 585 100 578L100 517L275 517Z" transform="translate(1402.56,1116.20) scale(0.0230,-0.0230)"/>
<text x="1415.35" y="1116.20" font-size="23" >6</text>
<line x1="1386.50" y1="553.80" x2="1386.50" y2="561.10" stroke="#4a4a4a" stroke-width="1.45" />
<line x1="1386.50" y1="583.60" x2="1386.50" y2="590.80" stroke="#4a4a4a" stroke-width="1.45" />
<rect x="1369.3" y="561.1" width="34.30" height="22.50" fill="#7F7F7F" stroke="#4a4a4a" stroke-width="1.45"/>
<line x1="1370.10" y1="572.30" x2="1402.80" y2="572.30" stroke="#4a4a4a" stroke-width="1.6" />
<text x="1415.30" y="581.40" font-size="22.4" >s</text>
<path d="M275 0L361 0L361 703L300 703C285 650 240 585 100 578L100 517L275 517Z" transform="translate(1426.50,581.40) scale(0.0224,-0.0224)"/>
<text x="1438.96" y="581.40" font-size="22.4" >TCM</text>
<line x1="1386.50" y1="599.40" x2="1386.50" y2="606.70" stroke="#4a4a4a" stroke-width="1.45" />
<line x1="1386.50" y1="629.10" x2="1386.50" y2="636.30" stroke="#4a4a4a" stroke-width="1.45" />
<rect x="1369.3" y="606.7" width="34.30" height="22.40" fill="#CCCCCC" stroke="#4a4a4a" stroke-width="1.45"/>
<line x1="1370.10" y1="617.80" x2="1402.80" y2="617.80" stroke="#4a4a4a" stroke-width="1.6" />
<path d="M275 0L361 0L361 703L300 703C285 650 240 585 100 578L100 517L275 517Z" transform="translate(1415.30,626.30) scale(0.0224,-0.0224)"/>
<text x="1427.76" y="626.30" font-size="22.4" >TCM</text>
<line x1="1386.50" y1="645.00" x2="1386.50" y2="651.90" stroke="#4a4a4a" stroke-width="1.45" />
<line x1="1386.50" y1="674.00" x2="1386.50" y2="681.60" stroke="#4a4a4a" stroke-width="1.45" />
<rect x="1369.3" y="651.9" width="34.30" height="22.10" fill="#FFFFFF" stroke="#4a4a4a" stroke-width="1.45"/>
<line x1="1370.10" y1="662.90" x2="1402.80" y2="662.90" stroke="#4a4a4a" stroke-width="1.6" />
<text x="1415.30" y="671.90" font-size="22.4" text-anchor="start" >2TCM</text>
<text x="720.5" y="529.3" font-size="35">Reduced X</text>
<text x="891.5" y="512.8" font-size="24">2</text>
<text x="814.30" y="1151.70" font-size="28.6" text-anchor="middle" >Patient Number</text>
<g transform="translate(34.3,0) rotate(-90)">
<text x="-883.2" y="0" font-size="29">X</text>
<text x="-864.3" y="-15.2" font-size="20">2</text>
<text x="-864.4" y="9.4" font-size="20">red.</text>
<text x="-814.2" y="0.2" font-size="29">[a.u.]</text>
</g>
</svg></body></html>
